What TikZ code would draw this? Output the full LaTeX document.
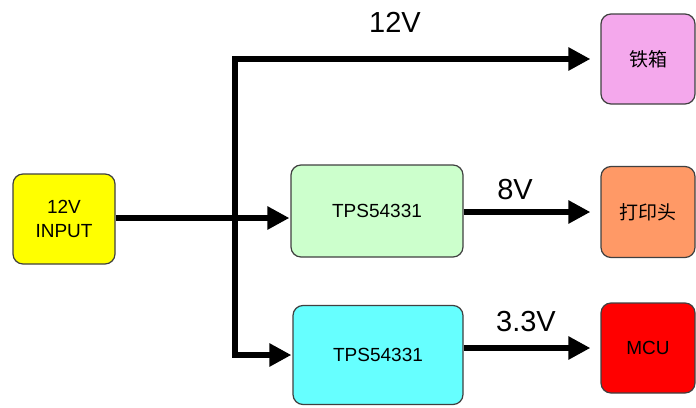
\documentclass[tikz,border=0pt]{standalone}
\usepackage{fontspec}
\setmainfont{Liberation Sans}
\newfontfamily\cjk{Noto Sans CJK SC}
\usetikzlibrary{arrows.meta}
\definecolor{inyellow}{HTML}{FFFF00}
\definecolor{tpsgreen}{HTML}{CCFFCC}
\definecolor{tpscyan}{HTML}{66FFFF}
\definecolor{boxpink}{HTML}{F4A8EC}
\definecolor{boxorange}{HTML}{FF9966}
\definecolor{boxred}{HTML}{FF0000}
\definecolor{edgegray}{HTML}{404040}
\begin{document}
\begin{tikzpicture}[x=1pt,y=-1pt,
  box/.style={draw=edgegray, line width=1.2pt, rounded corners=10pt, align=center,
    font=\fontsize{19}{24}\selectfont},
  wire/.style={line width=5.5pt, line join=miter},
  arr/.style={wire, -{Triangle[length=22pt,width=22pt]}, shorten >=#1},
  arr/.default=10pt,
  volt/.style={font=\fontsize{29}{32}\selectfont}
]
\useasboundingbox (0,0) rectangle (696,407);
\node[box, fill=inyellow, minimum width=102pt, minimum height=90pt] (in) at (64,219) {12V\\INPUT};
\node[box, fill=tpsgreen, minimum width=172pt, minimum height=92pt] (tps1) at (377,211) {TPS54331};
\node[box, fill=tpscyan, minimum width=170pt, minimum height=99pt] (tps2) at (378,355) {TPS54331};
\node[box, fill=boxpink, minimum width=94pt, minimum height=90pt] (b1) at (648,59) {\cjk 铁箱};
\node[box, fill=boxorange, minimum width=94pt, minimum height=91pt] (b2) at (648,212) {\cjk 打印头};
\node[box, fill=boxred, minimum width=94pt, minimum height=90pt] (b3) at (648,348) {MCU};
\coordinate (j) at (235,218);
\draw[wire] (in.east |- j) -- (j);
\draw[arr=1pt] (j) -- (j -| tps1.west);
\draw[arr] (j) |- (b1.west);
\draw[arr=1pt] (j) |- (tps2.west);
\draw[arr] (tps1.east |- b2.west) -- (b2.west);
\draw[arr] (tps2.east |- b3.west) -- (b3.west);
\node[volt] (l12) at (395,22) {12V};
\node[volt] (l8) at (515,190) {8V};
\node[volt] (l33) at (526,322) {3.3V};
\end{tikzpicture}
\end{document}
